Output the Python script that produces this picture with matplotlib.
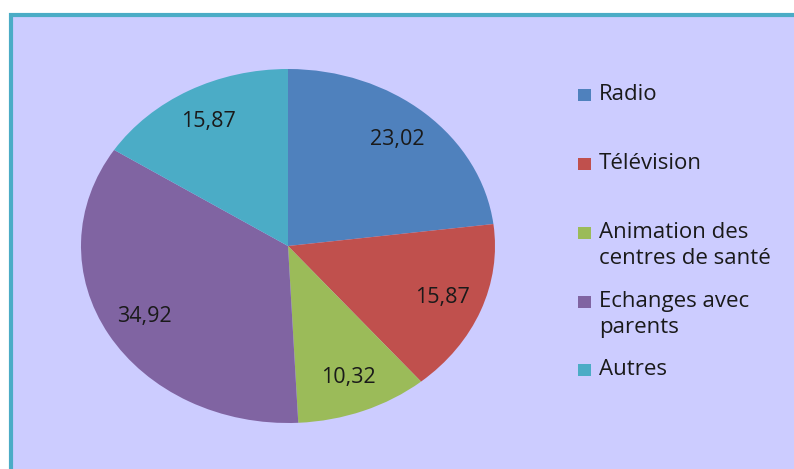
import matplotlib.pyplot as plt
from matplotlib.patches import Rectangle

# data
categories = ["Radio", "Télévision", "Animation des\ncentres de santé",
              "Echanges avec\nparents", "Autres"]
values = [23.02, 15.87, 10.32, 34.92, 15.87]
colors = ["#4F81BD", "#C0504D", "#9BBB59", "#8064A2", "#4BACC6"]

W, H = 794, 469
plt.rcParams["font.family"] = ["Open Sans", "DejaVu Sans"]

fig = plt.figure(figsize=(W / 100, H / 100), dpi=100)
fig.patch.set_facecolor("white")

# chart area background with teal frame (only left/top edges visible)
frame = Rectangle((11 / W, -0.05), 1.1, 1 - 15 / H + 0.05,
                  transform=fig.transFigure, facecolor="#CCCCFF",
                  edgecolor="#4BACC6", linewidth=3, zorder=-10)
fig.patches.append(frame)

# pie ellipse: x 81..495, y 69..423 (pixels from top)
ax = fig.add_axes([81 / W, 1 - 423 / H, 414 / W, 354 / H], zorder=5)
ax.set_facecolor("none")
wedges, texts = ax.pie(values, colors=colors, startangle=90, counterclock=False,
                       radius=1.0, labels=[f"{v:.2f}".replace(".", ",") for v in values],
                       labeldistance=0.8, textprops=dict(fontsize=15.5, color="#1a1a1a"),
                       wedgeprops=dict(linewidth=0))
for t in texts:
    t.set_horizontalalignment("center")
    t.set_verticalalignment("center")
ax.set_aspect("auto")
ax.set_xlim(-1, 1)
ax.set_ylim(-1, 1)
ax.axis("off")

# legend, drawn by hand to match the equal spacing of the original
top_y = [95, 164, 233, 302, 370]
for w, lab, y in zip(wedges, categories, top_y):
    fig.patches.append(Rectangle((578 / W, 1 - (y + 6) / H), 13 / W, 12 / H,
                                 transform=fig.transFigure, zorder=1,
                                 facecolor=w.get_facecolor(), edgecolor="none"))
    fig.text(599 / W, 1 - (y - 11) / H, lab, fontsize=16, color="#1a1a1a",
             va="top", ha="left", linespacing=1.32)

fig.savefig("out.png", dpi=100)
